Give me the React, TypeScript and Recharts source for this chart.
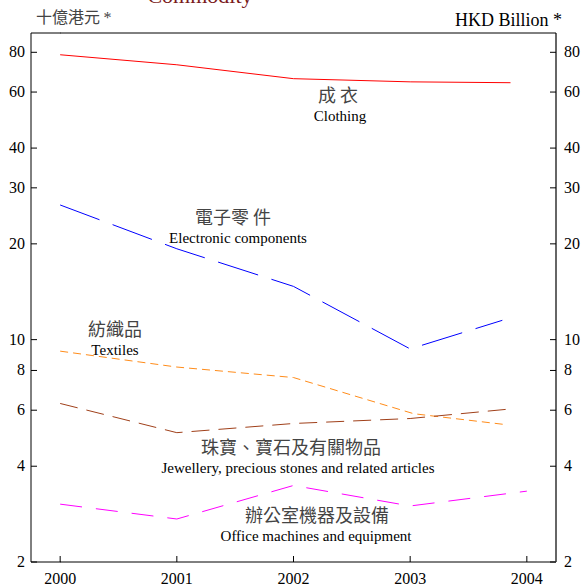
import React from "react";
import { CartesianGrid, Line, LineChart, XAxis, YAxis } from "recharts";

const W = 584;
const H = 587;

const X_TICKS = [2000, 2001, 2002, 2003, 2004];
const Y_TICKS = [2, 4, 6, 8, 10, 20, 30, 40, 60, 80];

// x positions per series (some series stop short of 2004)
const CLOTHING_X = [2000, 2001, 2002, 2003, 2003.86];
const CLOTHING = [78.6, 73.1, 66.1, 64.6, 64.2];

const ELECTRONIC_X = [2000, 2001, 2002, 2003, 2003.79];
const ELECTRONIC = [26.5, 19.3, 14.7, 9.35, 11.5];

const TEXTILES_X = [2000, 2001, 2002, 2003.03, 2003.83];
const TEXTILES = [9.2, 8.2, 7.6, 5.85, 5.4];

const JEWELLERY_X = [2000, 2001, 2002, 2003, 2003.85];
const JEWELLERY = [6.3, 5.1, 5.45, 5.65, 6.05];

const OFFICE_X = [2000, 2001, 2002, 2003, 2004];
const OFFICE = [3.04, 2.73, 3.48, 3.0, 3.34];

const rows = (xs: number[], vs: number[]) => xs.map((x, i) => ({ x, v: vs[i] }));

const SERIF = "'Liberation Serif', 'DejaVu Serif', serif";
const CJK = "'Noto Sans CJK TC', 'Noto Sans CJK SC', sans-serif";

const LeftTick = (props: any) => {
  const { y, payload } = props;
  return (
    <g>
      <line x1={31} x2={37} y1={y} y2={y} stroke="#000" />
      <text x={25} y={y + 5} textAnchor="end" fontFamily={SERIF} fontSize={16} fill="#000">
        {payload.value}
      </text>
    </g>
  );
};

const RightTick = (props: any) => {
  const { y, payload } = props;
  return (
    <g>
      <line x1={550} x2={556} y1={y} y2={y} stroke="#000" />
      <text x={564} y={y + 5} textAnchor="start" fontFamily={SERIF} fontSize={16} fill="#000">
        {payload.value}
      </text>
    </g>
  );
};

const BottomTick = (props: any) => {
  const { x, payload } = props;
  return (
    <g>
      <line x1={x} x2={x} y1={562} y2={556} stroke="#000" />
      <text x={x} y={584} textAnchor="middle" fontFamily={SERIF} fontSize={16} fill="#000">
        {payload.value}
      </text>
    </g>
  );
};

const labels = [
  { zh: "成 衣", en: "Clothing", zx: 338, ex: 340, y: 102 },
  { zh: "電子零 件", en: "Electronic components", zx: 233, ex: 238, y: 224 },
  { zh: "紡織品", en: "Textiles", zx: 115, ex: 115, y: 336 },
  { zh: "珠寶、寶石及有關物品", en: "Jewellery, precious stones and related articles", zx: 291, ex: 298, y: 454 },
  { zh: "辦公室機器及設備", en: "Office machines and equipment", zx: 317, ex: 316, y: 522 },
];

export default function App() {
  return (
    <div style={{ position: "absolute", left: 0, top: 0, width: W, height: H, background: "#fff" }}>
      <LineChart width={W} height={H} margin={{ top: 33, right: 0, bottom: 0, left: 0 }}>
        <CartesianGrid
          horizontal
          vertical={false}
          stroke="#888"
          strokeDasharray="0 29 1 1000"
        />
        <XAxis
          type="number"
          dataKey="x"
          domain={[1999.75, 2004.25]}
          ticks={X_TICKS}
          height={25}
          tick={<BottomTick />}
          tickLine={false}
          axisLine={{ stroke: "#000" }}
          allowDuplicatedCategory={false}
        />
        <YAxis
          yAxisId="l"
          scale="log"
          domain={[2, 92]}
          ticks={Y_TICKS}
          width={31}
          tick={<LeftTick />}
          tickLine={false}
          axisLine={{ stroke: "#000" }}
          allowDataOverflow
        />
        <YAxis
          yAxisId="r"
          orientation="right"
          scale="log"
          domain={[2, 92]}
          ticks={Y_TICKS}
          width={28}
          tick={<RightTick />}
          tickLine={false}
          axisLine={{ stroke: "#666", strokeWidth: 2 }}
          allowDataOverflow
        />
        <Line yAxisId="l" data={rows(CLOTHING_X, CLOTHING)} dataKey="v" stroke="#ff0000" strokeWidth={1} dot={false} isAnimationActive={false} />
        <Line yAxisId="l" data={rows(ELECTRONIC_X, ELECTRONIC)} dataKey="v" stroke="#0000ff" strokeWidth={1} strokeDasharray="42 14" dot={false} isAnimationActive={false} />
        <Line yAxisId="l" data={rows(TEXTILES_X, TEXTILES)} dataKey="v" stroke="#ff8c1a" strokeWidth={1} strokeDasharray="8 5" dot={false} isAnimationActive={false} />
        <Line yAxisId="l" data={rows(JEWELLERY_X, JEWELLERY)} dataKey="v" stroke="#a0401a" strokeWidth={1} strokeDasharray="18 9" dot={false} isAnimationActive={false} />
        <Line yAxisId="l" data={rows(OFFICE_X, OFFICE)} dataKey="v" stroke="#ff00ff" strokeWidth={1} strokeDasharray="22 14" dot={false} isAnimationActive={false} />
      </LineChart>
      <svg width={W} height={H} style={{ position: "absolute", left: 0, top: 0, pointerEvents: "none" }}>
        <line x1={31} x2={556} y1={33} y2={33} stroke="#000" />
        <text x={200} y={3} textAnchor="middle" fontFamily={SERIF} fontSize={22} fill="#7a1a1a">
          Commodity
        </text>
        <text x={36} y={23} fontFamily={CJK} fontSize={16} fill="#444">
          十億港元 <tspan fontFamily={SERIF}>*</tspan>
        </text>
        <text x={562} y={26} textAnchor="end" fontFamily={SERIF} fontSize={18} fill="#000">
          HKD Billion *
        </text>
        {labels.map((l) => (
          <g key={l.en}>
            <text x={l.zx} y={l.y} textAnchor="middle" fontFamily={CJK} fontSize={18} fill="#444">
              {l.zh}
            </text>
            <text x={l.ex} y={l.y + 19} textAnchor="middle" fontFamily={SERIF} fontSize={15} fill="#000">
              {l.en}
            </text>
          </g>
        ))}
      </svg>
    </div>
  );
}
